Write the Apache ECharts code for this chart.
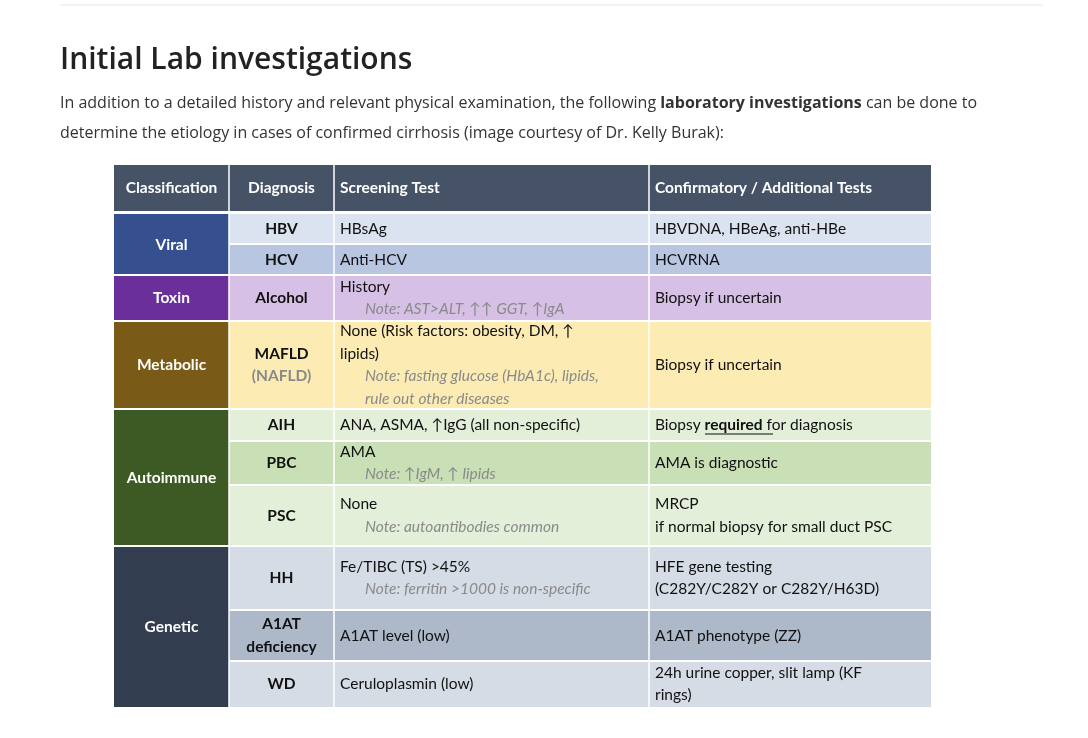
<!DOCTYPE html>
<html><head><meta charset="utf-8">
<script src="https://cdn.jsdelivr.net/npm/echarts@6/dist/echarts.min.js"></script>
<style>html,body{margin:0;padding:0;background:#fff}#c{width:1088px;height:738px}</style>
</head><body><div id="c"></div>
<script>
const title = 'Initial Lab investigations';
const introLines = [
  [['In addition to a detailed history and relevant physical examination, the following ', 'n'], ['laboratory investigations', 'b'], [' can be done to', 'n']],
  [['determine the etiology in cases of confirmed cirrhosis (image courtesy of Dr. Kelly Burak):', 'n']]
];
const headers = ['Classification', 'Diagnosis', 'Screening Test', 'Confirmatory / Additional Tests'];
const classNames = ['Viral', 'Toxin', 'Metabolic', 'Autoimmune', 'Genetic'];
const classSpans = [2, 1, 1, 3, 3];
const diagnoses = [['HBV'], ['HCV'], ['Alcohol'], ['MAFLD', '~(NAFLD)'], ['AIH'], ['PBC'], ['PSC'], ['HH'], ['A1AT', 'deficiency'], ['WD']];
const screening = [
  ['HBsAg'], ['Anti-HCV'],
  ['History', '~Note: AST>ALT, ↑↑ GGT, ↑IgA'],
  ['None (Risk factors: obesity, DM, ↑', 'lipids)', '~Note: fasting glucose (HbA1c), lipids,', '~rule out other diseases'],
  ['ANA, ASMA, ↑IgG (all non-specific)'],
  ['AMA', '~Note: ↑IgM, ↑ lipids'],
  ['None', '~Note: autoantibodies common'],
  ['Fe/TIBC (TS) >45%', '~Note: ferritin >1000 is non-specific'],
  ['A1AT level (low)'],
  ['Ceruloplasmin (low)']
];
const confirmatory = [
  ['HBVDNA, HBeAg, anti-HBe'], ['HCVRNA'], ['Biopsy if uncertain'], ['Biopsy if uncertain'],
  ['{n|Biopsy }{u|required}{n| for diagnosis}'], ['AMA is diagnostic'],
  ['MRCP', 'if normal biopsy for small duct PSC'],
  ['HFE gene testing', '(C282Y/C282Y or C282Y/H63D)'],
  ['A1AT phenotype (ZZ)'],
  ['24h urine copper, slit lamp (KF', 'rings)']
];

// layout / styles
const colX = [114, 229, 334, 649, 931];
const headerY = [165, 211];
const rowY = [214, 244, 275, 321, 409, 441, 485, 546, 610, 661, 707];
const classColors = ['#36508f', '#6b2f9b', '#7a5a17', '#3e5a24', '#333d50'];
const rowColors = ['#dbe2f0', '#b8c6e2', '#d7c0e6', '#fdebb4', '#e3efd9', '#c9dfb5', '#e3efd9', '#d6dce6', '#adb8c9', '#d6dce6'];
const FONT = 'Lato, "Open Sans", sans-serif';
const LH = 22.5;

const g = [];
g.push({type:'line', shape:{x1:60,y1:5,x2:1043,y2:5}, style:{stroke:'#e8e8e8', lineWidth:1}});
g.push({type:'text', x:60, y:60, style:{text:title, font:'600 30px "Open Sans", sans-serif', fill:'#222', verticalAlign:'middle'}});
introLines.forEach((ln, i) => {
  const txt = ln.map(p => '{' + p[1] + '|' + p[0].replace(/[{}|]/g,'') + '}').join('');
  g.push({type:'text', x:60, y:103 + i * 30, style:{text:txt, verticalAlign:'middle',
    rich:{n:{font:'16px "Open Sans", sans-serif', fill:'#333'}, b:{font:'bold 16px "Open Sans", sans-serif', fill:'#333'}}}});
});
// header
g.push({type:'rect', shape:{x:colX[0], y:headerY[0], width:colX[4]-colX[0], height:headerY[1]-headerY[0]}, style:{fill:'#465266'}});
headers.forEach((h, i) => {
  g.push({type:'text', x:colX[i] + (i < 2 ? (colX[i+1]-colX[i])/2 : 6), y:(headerY[0]+headerY[1])/2,
    style:{text:h, font:'bold 15.5px ' + FONT, fill:'#fff', align:i < 2 ? 'center' : 'left', verticalAlign:'middle'}});
});
for (let i = 1; i < 4; i++) g.push({type:'line', shape:{x1:colX[i], y1:headerY[0], x2:colX[i], y2:headerY[1]}, style:{stroke:'#fff', lineWidth:1.5}});

function cellLines(lines, x, y0, y1, align, bold) {
  const n = lines.length, cy = (y0 + y1) / 2;
  lines.forEach((t, k) => {
    const note = t.startsWith('~');
    const txt = note ? t.slice(1) : t;
    const isNoteText = note && txt.startsWith('Note') || (note && !txt.startsWith('('));
    const y = cy + (k - (n - 1) / 2) * LH;
    const st = {text:txt, verticalAlign:'middle', align:align,
      font:(bold && !note ? 'bold ' : (isNoteText && align==='left' ? 'italic ' : (bold ? 'bold ' : ''))) + '15.5px ' + FONT,
      fill: note ? '#8a8a8a' : '#111'};
    if (txt.indexOf('{') === 0) {
      st.rich = {n:{font:'15.5px ' + FONT, fill:'#111'}, u:{font:'bold 15.5px ' + FONT, fill:'#111', textBorderWidth:0}};
    }
    g.push({type:'text', x: x + (note && align==='left' ? 25 : 0), y:y, style:st});
    if (txt.indexOf('{u|') >= 0) {
      g.push({type:'line', shape:{x1:x+50, y1:y+9, x2:x+118, y2:y+9}, style:{stroke:'#111', lineWidth:1.2}});
    }
  });
}

// rows
rowColors.forEach((c, r) => {
  g.push({type:'rect', shape:{x:colX[1], y:rowY[r], width:colX[4]-colX[1], height:rowY[r+1]-rowY[r]}, style:{fill:c}});
});
let r0 = 0;
classNames.forEach((name, i) => {
  const y0 = rowY[r0], y1 = rowY[r0 + classSpans[i]];
  g.push({type:'rect', shape:{x:colX[0], y:y0, width:colX[1]-colX[0], height:y1-y0}, style:{fill:classColors[i]}});
  g.push({type:'text', x:(colX[0]+colX[1])/2, y:(y0+y1)/2, style:{text:name, font:'bold 15.5px ' + FONT, fill:'#fff', align:'center', verticalAlign:'middle'}});
  if (i > 0) g.push({type:'line', shape:{x1:colX[0], y1:y0, x2:colX[4], y2:y0}, style:{stroke:'#fff', lineWidth:2}});
  r0 += classSpans[i];
});
for (let r = 1; r < rowColors.length; r++) {
  g.push({type:'line', shape:{x1:colX[1], y1:rowY[r], x2:colX[4], y2:rowY[r]}, style:{stroke:'#fff', lineWidth:2}});
}
for (let i = 1; i < 4; i++) g.push({type:'line', shape:{x1:colX[i], y1:rowY[0], x2:colX[i], y2:rowY[rowY.length-1]}, style:{stroke:'#fff', lineWidth:1.5}});
diagnoses.forEach((d, r) => cellLines(d, (colX[1]+colX[2])/2, rowY[r], rowY[r+1], 'center', true));
screening.forEach((d, r) => cellLines(d, colX[2] + 6, rowY[r], rowY[r+1], 'left', false));
confirmatory.forEach((d, r) => cellLines(d, colX[3] + 6, rowY[r], rowY[r+1], 'left', false));

const chart = echarts.init(document.getElementById('c'));
chart.setOption({animation:false, graphic:g.map(e => Object.assign({silent:true}, e))});
</script></body></html>
